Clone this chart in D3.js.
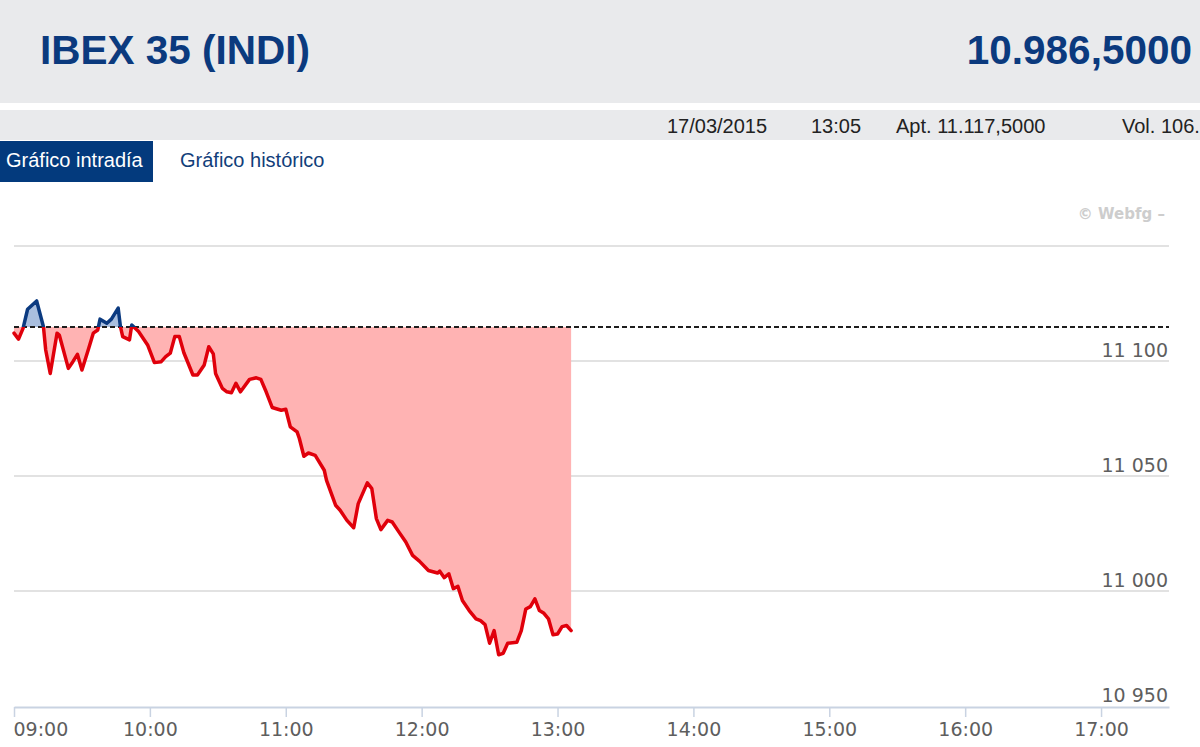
<!DOCTYPE html>
<html><head><meta charset="utf-8">
<script src="https://cdn.jsdelivr.net/npm/d3@7"></script>
<style>
html,body{margin:0;padding:0;background:#fff;overflow:hidden}
svg{display:block}
</style></head><body>
<svg id="c" width="1200" height="747"></svg>
<script>
// ---------- data ----------
const title = "IBEX 35 (INDI)";
const lastValue = "10.986,5000";
const infoItems = ["17/03/2015", "13:05", "Apt. 11.117,5000", "Vol. 106."];
const tabs = ["Gráfico intradía", "Gráfico histórico"];
const watermark = "© Webfg –";
const prevClose = 11114.8;
const times = ["09:00","09:02","09:04","09:06","09:10","09:13","09:14","09:16","09:19","09:20",
  "09:24","09:26","09:28","09:30","09:33","09:35","09:37","09:38","09:41","09:43",
  "09:46","09:47","09:48","09:51","09:52","09:55","09:59","10:02","10:05","10:07",
  "10:09","10:11","10:13","10:15","10:16","10:19","10:21","10:24","10:26","10:28",
  "10:29","10:32","10:34","10:36","10:38","10:40","10:44","10:47","10:49","10:51",
  "10:54","10:58","11:00","11:02","11:05","11:06","11:08","11:10","11:13","11:17",
  "11:18","11:22","11:24","11:27","11:30","11:32","11:36","11:38","11:40","11:42",
  "11:45","11:47","11:50","11:53","11:56","11:59","12:03","12:07","12:08","12:10",
  "12:12","12:14","12:16","12:18","12:21","12:24","12:26","12:28","12:30","12:32",
  "12:34","12:36","12:38","12:42","12:44","12:46","12:48","12:50","12:52","12:54",
  "12:56","12:58","13:00","13:02","13:04","13:06"];
const values = [11112.1,11109.5,11114.2,11122.5,11126.1,11114.9,11104.8,11094.6,11112.1,11111.3,
  11096.8,11099.7,11102.9,11096.1,11105.5,11112.1,11113.5,11118.2,11116.4,11118.2,
  11123.0,11114.9,11110.6,11109.2,11115.7,11112.8,11107.0,11099.3,11099.7,11101.9,
  11103.4,11110.6,11110.6,11103.6,11101.2,11093.9,11093.9,11098.3,11106.2,11103.1,
  11094.6,11088.1,11086.6,11086.2,11090.3,11086.6,11092.0,11092.7,11092.0,11087.4,
  11079.8,11078.6,11079.0,11071.4,11069.2,11066.3,11058.6,11060.0,11059.0,11052.5,
  11048.1,11037.3,11035.1,11030.7,11027.5,11038.0,11047.0,11044.5,11031.5,11026.7,
  11030.7,11030.0,11025.6,11021.3,11015.5,11013.0,11008.9,11007.8,11008.6,11005.8,
  11007.5,11001.0,11002.0,10995.9,10991.5,10987.9,10987.1,10985.4,10977.3,10982.8,
  10972.3,10972.9,10977.3,10977.7,10982.8,10992.2,10993.2,10996.6,10991.5,10990.3,
  10987.9,10981.0,10981.3,10984.5,10985.0,10982.8];
const gridValues = [11000, 11050, 11100, 11150];
const yTickValues = [10950, 11000, 11050, 11100];
const xTickLabels = ["09:00","10:00","11:00","12:00","13:00","14:00","15:00","16:00","17:00"];
const xDomainLabels = ["09:00", "17:30"];
const yDomain = [10950, 11150];

// ---------- setup ----------
const svg = d3.select("#c");
const parseT = d3.timeParse("%H:%M");
const data = times.map((t, i) => ({ t: parseT(t), v: values[i] }));

const locale = d3.formatLocale({ decimal: ",", thousands: " ", grouping: [3], currency: ["", ""] });
const fmt = locale.format(",d");

// header
svg.append("rect").attr("x", 0).attr("y", 0).attr("width", 1200).attr("height", 103).attr("fill", "#e9eaec");
svg.append("rect").attr("x", 0).attr("y", 110).attr("width", 1200).attr("height", 30).attr("fill", "#e9eaec");
const navy = "#0b3a7e";
svg.append("text").attr("x", 40).attr("y", 64).text(title)
  .attr("font-family", "Liberation Sans, Arial, sans-serif").attr("font-weight", "bold")
  .attr("font-size", 40.5).attr("fill", navy);
svg.append("text").attr("x", 1192).attr("y", 64).attr("text-anchor", "end").text(lastValue)
  .attr("font-family", "Liberation Sans, Arial, sans-serif").attr("font-weight", "bold")
  .attr("font-size", 40.5).attr("fill", navy);
const infoX = [667, 811, 896, 1122];
svg.selectAll("text.info").data(infoItems).join("text").attr("class", "info")
  .attr("x", (d, i) => infoX[i]).attr("y", 133).text(d => d)
  .attr("font-family", "Liberation Sans, Arial, sans-serif").attr("font-size", 20).attr("fill", "#222");

// tabs
svg.append("rect").attr("x", 0).attr("y", 141).attr("width", 153).attr("height", 41).attr("fill", "#033a7d");
svg.append("text").attr("x", 6).attr("y", 167).text(tabs[0])
  .attr("font-family", "Liberation Sans, Arial, sans-serif").attr("font-size", 20).attr("fill", "#fff");
svg.append("text").attr("x", 180).attr("y", 167).text(tabs[1])
  .attr("font-family", "Liberation Sans, Arial, sans-serif").attr("font-size", 20).attr("fill", "#123e7a");

// watermark
svg.append("text").attr("x", 1165).attr("y", 219).attr("text-anchor", "end").text(watermark)
  .attr("font-family", "DejaVu Sans, Verdana, sans-serif").attr("font-weight", "bold")
  .attr("font-size", 15).attr("fill", "#cdcdcd");

// scales
const x = d3.scaleTime().domain(xDomainLabels.map(parseT)).range([14, 1169]);
const y = d3.scaleLinear().domain(yDomain).range([706, 246]);
const yRef = y(prevClose);

// gridlines
svg.append("g").selectAll("line").data(gridValues).join("line")
  .attr("x1", 14).attr("x2", 1169).attr("y1", d => y(d)).attr("y2", d => y(d))
  .attr("stroke", "#d9d9d9").attr("stroke-width", 1.5);

// y labels
svg.append("g").selectAll("text").data(yTickValues).join("text")
  .attr("x", 1168).attr("y", d => y(d) - 4).attr("text-anchor", "end").text(d => fmt(d))
  .attr("font-family", "DejaVu Sans, Verdana, sans-serif").attr("font-size", 19).attr("fill", "#5e5e5e");

// clips
const defs = svg.append("defs");
defs.append("clipPath").attr("id", "above").append("rect")
  .attr("x", 0).attr("y", 0).attr("width", 1200).attr("height", yRef);
defs.append("clipPath").attr("id", "below").append("rect")
  .attr("x", 0).attr("y", yRef).attr("width", 1200).attr("height", 747 - yRef);

const area = d3.area().x(d => x(d.t)).y0(yRef).y1(d => y(d.v));
const line = d3.line().x(d => x(d.t)).y(d => y(d.v));

svg.append("path").datum(data).attr("d", area).attr("fill", "#ffb3b3").attr("clip-path", "url(#below)");
svg.append("path").datum(data).attr("d", area).attr("fill", "#a9bfdf").attr("clip-path", "url(#above)");

// reference dashed line
svg.append("line").attr("x1", 14).attr("x2", 1169).attr("y1", yRef).attr("y2", yRef)
  .attr("stroke", "#1e1e1e").attr("stroke-width", 2).attr("stroke-dasharray", "5,3");

svg.append("path").datum(data).attr("d", line).attr("fill", "none").attr("stroke", "#e0000b")
  .attr("stroke-width", 3.5).attr("stroke-linejoin", "round").attr("stroke-linecap", "round")
  .attr("clip-path", "url(#below)");
svg.append("path").datum(data).attr("d", line).attr("fill", "none").attr("stroke", "#0b3a80")
  .attr("stroke-width", 3.5).attr("stroke-linejoin", "round").attr("stroke-linecap", "round")
  .attr("clip-path", "url(#above)");

// x axis
const xAxis = d3.axisBottom(x).tickValues(xTickLabels.map(parseT))
  .tickFormat(d3.timeFormat("%H:%M")).tickSizeInner(10).tickSizeOuter(0).tickPadding(6);
const gx = svg.append("g").attr("transform", "translate(0,707)").call(xAxis);
gx.select(".domain").attr("stroke", "#c9d3e2").attr("stroke-width", 2);
gx.selectAll(".tick line").attr("stroke", "#c9d3e2").attr("stroke-width", 1.5);
gx.selectAll(".tick text").attr("font-family", "DejaVu Sans, Verdana, sans-serif")
  .attr("font-size", 19).attr("fill", "#5e5e5e");
gx.selectAll(".tick text").filter((d, i) => i === 0).attr("text-anchor", "start").attr("x", -1);
</script>
</body></html>
